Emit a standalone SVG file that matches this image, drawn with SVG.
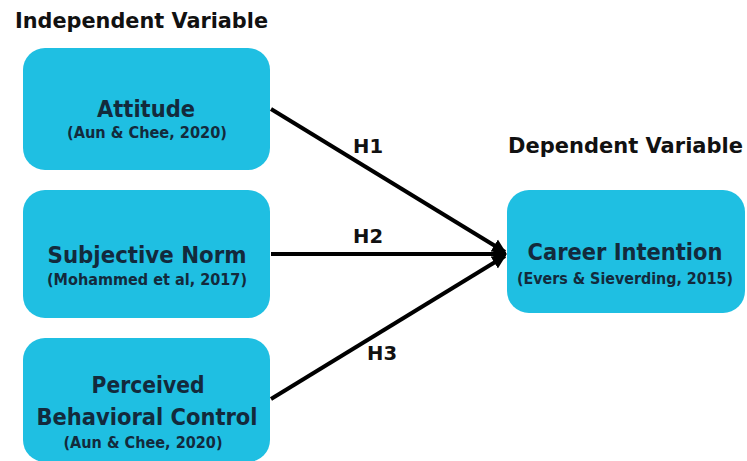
<svg xmlns="http://www.w3.org/2000/svg" width="747" height="461" viewBox="0 0 747 461">
<defs>
<style>
.box{fill:#1fbfe2;}
.t{font-family:"DejaVu Sans","Open Sans",sans-serif;font-weight:700;text-anchor:middle;fill:#132a3c;}
.m{font-size:22.5px;}
.c{font-size:15px;}
.h{font-family:"DejaVu Sans","Open Sans",sans-serif;font-weight:700;font-size:21px;fill:#111;}
.lbl{font-family:"DejaVu Sans","Open Sans",sans-serif;font-weight:700;font-size:20px;fill:#111;text-anchor:middle;}
.ln{stroke:#000;stroke-width:4;fill:none;}
</style>
<marker id="arr" viewBox="0 0 10 10" refX="9" refY="5" markerWidth="3.5" markerHeight="4.5" orient="auto" markerUnits="strokeWidth">
<path d="M0,0 L10,5 L0,10 z" fill="#000"/>
</marker>
</defs>
<rect width="747" height="461" fill="#fff"/>
<text class="h" x="15" y="28" textLength="253" lengthAdjust="spacingAndGlyphs">Independent Variable</text>
<text class="h" x="508" y="153" textLength="235" lengthAdjust="spacingAndGlyphs">Dependent Variable</text>
<g id="connectors">
<line class="ln" x1="271" y1="109" x2="505" y2="252" marker-end="url(#arr)"/>
<line class="ln" x1="271" y1="254" x2="506" y2="254" marker-end="url(#arr)"/>
<line class="ln" x1="271" y1="399" x2="505" y2="256" marker-end="url(#arr)"/>
<text class="lbl" x="368" y="153" textLength="30" lengthAdjust="spacingAndGlyphs">H1</text>
<text class="lbl" x="368" y="243" textLength="30" lengthAdjust="spacingAndGlyphs">H2</text>
<text class="lbl" x="382" y="360" textLength="30" lengthAdjust="spacingAndGlyphs">H3</text>
</g>
<g id="attitude">
<rect class="box" x="23" y="48" width="247" height="122" rx="22"/>
<text class="t m" x="146" y="117" textLength="98" lengthAdjust="spacingAndGlyphs">Attitude</text>
<text class="t c" x="147" y="138" textLength="160" lengthAdjust="spacingAndGlyphs">(Aun &amp; Chee, 2020)</text>
</g>
<g id="subjective-norm">
<rect class="box" x="23" y="190" width="247" height="128" rx="22"/>
<text class="t m" x="147" y="263" textLength="199" lengthAdjust="spacingAndGlyphs">Subjective Norm</text>
<text class="t c" x="147" y="285" textLength="200" lengthAdjust="spacingAndGlyphs">(Mohammed et al, 2017)</text>
</g>
<g id="pbc">
<rect class="box" x="23" y="338" width="247" height="124" rx="22"/>
<text class="t m" x="148" y="393" textLength="113" lengthAdjust="spacingAndGlyphs">Perceived</text>
<text class="t m" x="147" y="425" textLength="221" lengthAdjust="spacingAndGlyphs">Behavioral Control</text>
<text class="t c" x="143" y="448" textLength="159" lengthAdjust="spacingAndGlyphs">(Aun &amp; Chee, 2020)</text>
</g>
<g id="career-intention">
<rect class="box" x="507" y="190" width="238" height="123" rx="22"/>
<text class="t m" x="625" y="260" textLength="195" lengthAdjust="spacingAndGlyphs">Career Intention</text>
<text class="t c" x="625" y="284" textLength="216" lengthAdjust="spacingAndGlyphs">(Evers &amp; Sieverding, 2015)</text>
</g>
</svg>
